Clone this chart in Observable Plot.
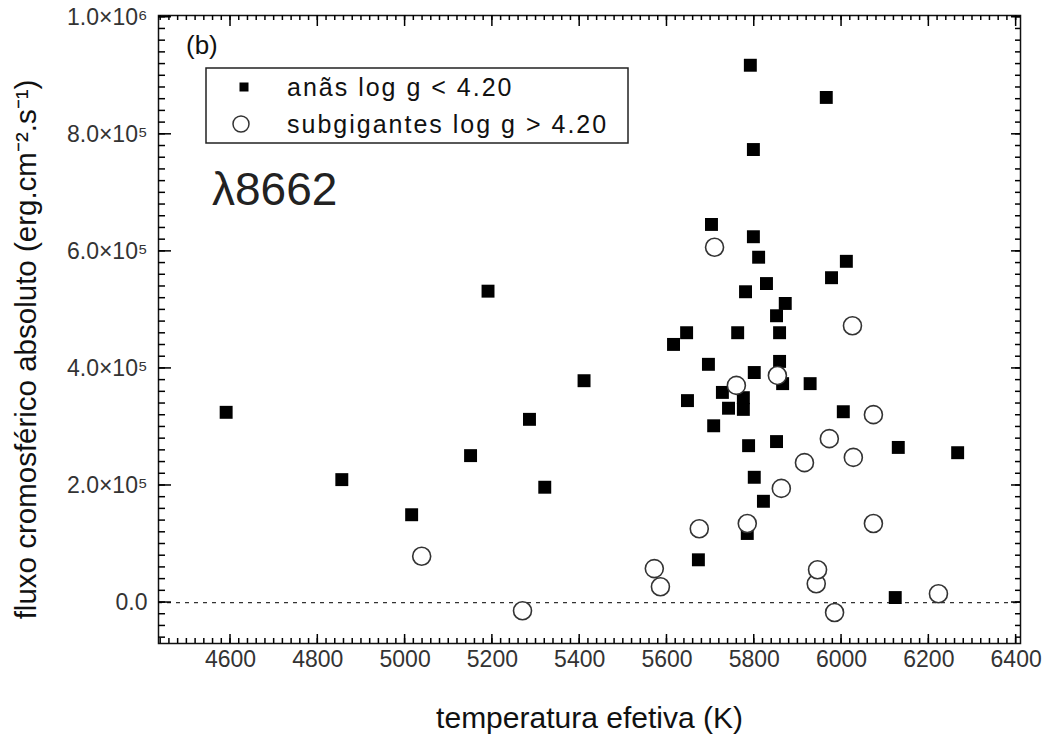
<!DOCTYPE html>
<html>
<head>
<meta charset="utf-8">
<script src="https://cdn.jsdelivr.net/npm/d3@7"></script>
<script src="https://cdn.jsdelivr.net/npm/@observablehq/plot@0.6"></script>
<style>
  body { margin: 0; background: #fff; }
  #chart { width: 1042px; height: 735px; }
</style>
</head>
<body>
<div id="chart"></div>
<script>
// Dwarf stars (log g < 4.20): effective temperature (K) and absolute chromospheric flux
const dwarfTeff = [4590, 4855, 5015, 5150, 5190, 5285, 5320, 5410, 5615, 5645, 5647, 5672, 5695, 5702, 5707,
  5727, 5741, 5762, 5775, 5775, 5780, 5784, 5787, 5791, 5798, 5798, 5800, 5800, 5810, 5821,
  5828, 5851, 5851, 5858, 5858, 5865, 5871, 5928, 5977, 5965, 6004, 6011, 6123, 6130, 6266];
const dwarfFlux = [325000, 210000, 150000, 251000, 532000, 313000, 197000, 379000, 441000, 461000, 345000, 73000, 407000, 646000, 302000,
  359000, 332000, 461000, 350000, 330000, 531000, 118000, 268000, 918000, 625000, 774000, 393000, 214000, 590000, 173000,
  545000, 490000, 275000, 461000, 412000, 374000, 511000, 374000, 555000, 863000, 326000, 583000, 8500, 265000, 256000];

// Subgiant stars (log g > 4.20)
const subTeff = [5038, 5269, 5571, 5585, 5674, 5709, 5759, 5784, 5853, 5862, 5915, 5942, 5945, 5972, 5984, 6025, 6027, 6073, 6073, 6222];
const subFlux = [79000, -14000, 58000, 27000, 126000, 607000, 371000, 135000, 388000, 195000, 239000, 32000, 56000, 280000, -17000, 473000, 248000, 321000, 135000, 15000];

// Axis ticks and labels
const xTicks = [4600, 4800, 5000, 5200, 5400, 5600, 5800, 6000, 6200, 6400];
const yTicks = [0, 200000, 400000, 600000, 800000, 1000000];
const yTickLabels = ["0.0", "2.0×10⁵", "4.0×10⁵", "6.0×10⁵", "8.0×10⁵", "1.0×10⁶"];
const xTitle = "temperatura efetiva (K)";
const yTitle = "fluxo cromosférico absoluto (erg.cm⁻².s⁻¹)";
const legendLabels = ["anãs log g < 4.20", "subgigantes log g > 4.20"];
const panelTag = "(b)";
const lineTag = "λ8662";

const dwarfs = dwarfTeff.map((t, i) => ({teff: t, flux: dwarfFlux[i]}));
const subgiants = subTeff.map((t, i) => ({teff: t, flux: subFlux[i]}));

const xDomain = [4435, 6410];
const yDomain = [-70000, 1003000];
const xMinor = d3.range(4440, 6410, 20);
const yMinor = d3.range(-60000, 1003000, 20000);

const W = 1042, H = 735;
const M = {left: 158, right: 22, top: 15, bottom: 92};

const font = "'Liberation Sans', Arial, sans-serif";
const ink = "#111";

const svg = Plot.plot({
  width: W,
  height: H,
  marginLeft: M.left,
  marginRight: M.right,
  marginTop: M.top,
  marginBottom: M.bottom,
  style: {fontFamily: font, background: "#fff", color: ink},
  x: {domain: xDomain},
  y: {domain: yDomain},
  marks: [
    Plot.ruleY([0], {stroke: "#333", strokeWidth: 1.2, strokeDasharray: "4,5"}),
    // tick labels
    Plot.axisX({anchor: "bottom", ticks: xTicks, tickSize: 0, tickPadding: 7, label: null,
      tickFormat: d => String(d), fontSize: 23, fill: "#333"}),
    Plot.axisY({anchor: "left", ticks: yTicks, tickSize: 0, tickPadding: 11, label: null,
      tickFormat: d => yTickLabels[yTicks.indexOf(d)], fontSize: 23, fill: "#333"}),
    // axis titles
    Plot.text([xTitle], {frameAnchor: "bottom", dy: 75, fontSize: 30, fill: ink,
      textAnchor: "middle", lineAnchor: "middle"}),
    Plot.text([yTitle], {frameAnchor: "left", rotate: -90, dx: -132, dy: 20, fontSize: 29.5, fill: ink,
      textAnchor: "middle", lineAnchor: "middle"}),
    Plot.frame({stroke: ink, strokeWidth: 1.5}),
    // data
    Plot.dot(dwarfs, {x: "teff", y: "flux", symbol: "square", r: 7.3, fill: "#000", stroke: "none"}),
    Plot.dot(subgiants, {x: "teff", y: "flux", symbol: "circle", r: 9, fill: "#fff", stroke: "#333", strokeWidth: 1.6})
  ]
});

// Inward tick marks on all four sides, placed with the plot's own scales
const sx = svg.scale("x"), sy = svg.scale("y");
const x0 = M.left, x1 = W - M.right, y0 = M.top, y1 = H - M.bottom;
const ticks = d3.select(svg).append("g").attr("stroke", "#000").attr("stroke-width", 1.5);
const addX = (vals, len, yEdge, dir) => vals.forEach(v => {
  const px = sx.apply(v);
  ticks.append("line").attr("x1", px).attr("x2", px).attr("y1", yEdge).attr("y2", yEdge + dir * len);
});
const addY = (vals, len, xEdge, dir) => vals.forEach(v => {
  const py = sy.apply(v);
  ticks.append("line").attr("y1", py).attr("y2", py).attr("x1", xEdge).attr("x2", xEdge + dir * len);
});
addX(xMinor, 5, y1, -1); addX(xTicks, 9, y1, -1);
addX(xMinor, 5, y0, 1); addX(xTicks, 11, y0, 1);
addY(yMinor, 7, x0, 1); addY(yTicks, 13, x0, 1);
addY(yMinor, 5, x1, -1); addY(yTicks, 9, x1, -1);

// panel annotations and legend box
const g = d3.select(svg).append("g")
  .attr("font-family", font).attr("fill", ink).attr("text-anchor", "start");
g.append("text").attr("x", 186).attr("y", 54).attr("font-size", 26).text(panelTag);
g.append("rect").attr("x", 206).attr("y", 68).attr("width", 422).attr("height", 75)
  .attr("fill", "#fff").attr("stroke", "#222").attr("stroke-width", 1.5);
g.append("rect").attr("x", 239.5).attr("y", 82.5).attr("width", 9).attr("height", 9).attr("fill", "#000");
g.append("circle").attr("cx", 241).attr("cy", 124).attr("r", 8).attr("fill", "#fff")
  .attr("stroke", "#333").attr("stroke-width", 1.5);
g.append("text").attr("x", 287).attr("y", 96).attr("font-size", 25).attr("letter-spacing", 2).text(legendLabels[0]);
g.append("text").attr("x", 287).attr("y", 133).attr("font-size", 25).attr("letter-spacing", 2).text(legendLabels[1]);
g.append("text").attr("x", 212).attr("y", 205).attr("font-size", 46).attr("fill", "#222").text(lineTag);

document.getElementById("chart").append(svg);
</script>
</body>
</html>
